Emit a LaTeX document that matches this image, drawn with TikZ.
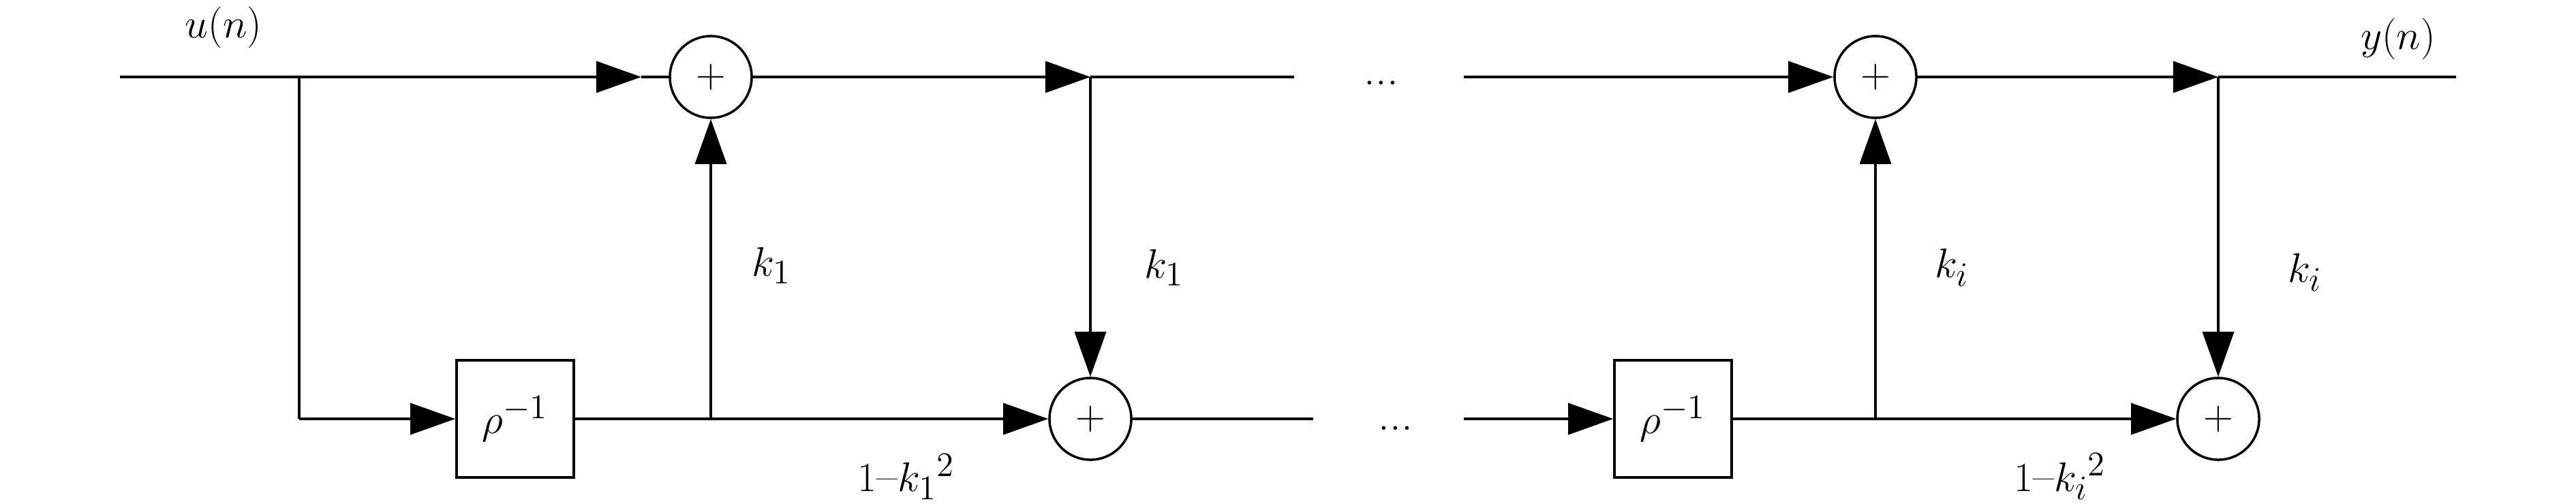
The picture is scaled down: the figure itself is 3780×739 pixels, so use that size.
\documentclass[tikz,border=0pt]{standalone}
\usepackage{amsmath}
\usetikzlibrary{arrows.meta}
\begin{document}
\begin{tikzpicture}[x=0.01cm,y=-0.01cm,
  line width=1pt,
  every node/.style={font=\fontsize{19}{23}\selectfont},
  sumnode/.style={circle,draw,line width=1pt,minimum size=1.2cm,inner sep=0pt},
  delaybox/.style={rectangle,draw,line width=1pt,minimum width=1.72cm,minimum height=1.72cm,inner sep=0pt},
  arr/.style={-{Triangle[length=18.8pt,width=13.1pt]}},
  lbl/.style={inner sep=0pt}]
\useasboundingbox (0,0) rectangle (3780,739);
% nodes
\node[sumnode] (s1) at (1043,113) {$+$};
\node[sumnode] (s2) at (1600,615) {$+$};
\node[sumnode] (s3) at (2752,113) {$+$};
\node[sumnode] (s4) at (3255,615) {$+$};
\node[delaybox] (d1) at (756,615) {$\rho^{-1}$};
\node[delaybox] (d2) at (2455,615) {$\rho^{-1}$};
% coordinates
\coordinate (in) at (176,113);
\coordinate (b0) at (439,113);
\coordinate (b0d) at (439,615);
\coordinate (a0) at (941,113);
\coordinate (j1) at (1043,615);
\coordinate (b1) at (1600,113);
\coordinate (e1) at (1899,113);
\coordinate (e2) at (1927,615);
\coordinate (r1) at (2148,113);
\coordinate (r2) at (2148,615);
\coordinate (j2) at (2752,615);
\coordinate (b2) at (3255,113);
\coordinate (out) at (3604,113);
% stage 1
\draw (in) -- (b0);
\draw[arr] (b0) -- (a0);
\draw (a0) -- (s1.west);
\draw (b0) -- (b0d);
\draw[arr] (b0d) -- (d1.west);
\draw (d1.east) -- (j1);
\draw[arr] (j1) -- (s2.west);
\draw[arr] (j1) -- (s1.south);
\draw[arr] (s1.east) -- (b1);
\draw (b1) -- (e1);
\draw[arr] (b1) -- (s2.north);
\draw (s2.east) -- (e2);
% dots
\node[lbl,anchor=base] (dt) at (2027,124) {...};
\node[lbl,anchor=base] (db) at (2048,631) {...};
% stage i
\draw[arr] (r1) -- (s3.west);
\draw[arr] (r2) -- (d2.west);
\draw (d2.east) -- (j2);
\draw[arr] (j2) -- (s4.west);
\draw[arr] (j2) -- (s3.south);
\draw[arr] (s3.east) -- (b2);
\draw (b2) -- (out);
\draw[arr] (b2) -- (s4.north);
% labels
\node[lbl] (lu) at (328,40) {$u(n)$};
\node[lbl] (ly) at (3519,57) {$y(n)$};
\node[lbl] (lk1) at (1132,390) {$k_1$};
\node[lbl] (lk2) at (1708,393) {$k_1$};
\node[lbl] (lk3) at (2864,393) {$k_i$};
\node[lbl] (lk4) at (3382,400) {$k_i$};
\node[lbl] (lg1) at (1330,700) {$1\text{--}{k_1}^2$};
\node[lbl] (lg2) at (3023,700) {$1\text{--}{k_i}^2$};
\end{tikzpicture}
\end{document}
